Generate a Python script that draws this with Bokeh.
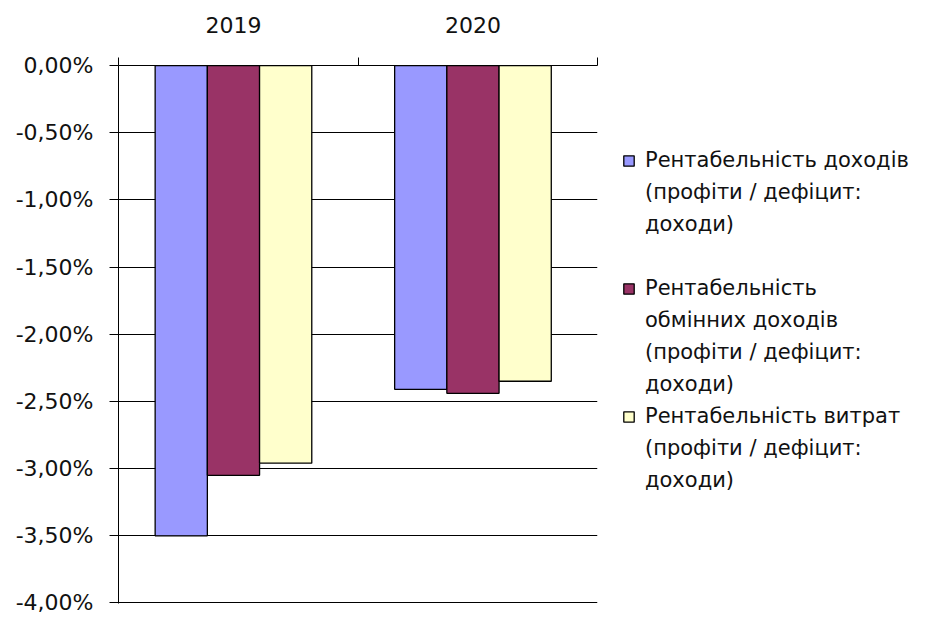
from bokeh.plotting import figure
from bokeh.models import Range1d, FixedTicker, Legend, LegendItem, ColumnDataSource
from bokeh.embed import file_html
from bokeh.resources import INLINE

# ---- data ----
years = ["2019", "2020"]
series_label_lines = [
    ["Рентабельність доходів", "(профіти / дефіцит:", "доходи)"],
    ["Рентабельність", "обмінних доходів", "(профіти / дефіцит:", "доходи)"],
    ["Рентабельність витрат", "(профіти / дефіцит:", "доходи)"],
]
income_margin = [-3.50, -2.41]            # %
exchange_income_margin = [-3.05, -2.44]   # %
expense_margin = [-2.96, -2.35]           # %
y_tick_values = [0.0, -0.5, -1.0, -1.5, -2.0, -2.5, -3.0, -3.5, -4.0]
y_tick_labels = ["0,00%", "-0,50%", "-1,00%", "-1,50%", "-2,00%",
                 "-2,50%", "-3,00%", "-3,50%", "-4,00%"]

colors = ["#9999FF", "#993366", "#FFFFCC"]
series = [income_margin, exchange_income_margin, expense_margin]

FONT = "DejaVu Sans"
BAR_W = 0.218
GROUP_SHIFT = -0.02

p = figure(frame_width=479, frame_height=538,
           x_range=Range1d(0, len(years)), y_range=Range1d(-4.004, 0),
           x_axis_location="above",
           output_backend="svg", toolbar_location=None,
           min_border_left=118, min_border_top=65,
           min_border_bottom=14, min_border_right=0)
p.outline_line_color = None
p.background_fill_color = "white"
p.border_fill_color = "white"

bar_renderers = []
for k, (vals, col) in enumerate(zip(series, colors)):
    xs = [i + 0.5 + GROUP_SHIFT + (k - 1) * BAR_W for i in range(len(years))]
    src = ColumnDataSource(dict(x=xs, top=vals))
    r = p.vbar(x="x", top="top", bottom=0, width=BAR_W, source=src,
               fill_color=col, line_color="black", line_width=1.3)
    bar_renderers.append(r)

# invisible renderer used for continuation lines of the legend labels
blank = p.vbar(x=[], top=[], width=0.1, fill_alpha=0, line_alpha=0)

# y axis
yax = p.yaxis[0]
yax.ticker = FixedTicker(ticks=y_tick_values)
yax.major_label_overrides = {v: s for v, s in zip(y_tick_values, y_tick_labels)}
yax.major_tick_out = 9
yax.major_tick_in = 0
yax.minor_tick_line_color = None
yax.axis_line_color = "black"
yax.major_tick_line_color = "black"
yax.major_label_text_font = FONT
yax.major_label_text_font_size = "22px"
yax.major_label_text_color = "#111111"
yax.major_label_standoff = 16

# top category axis
xax = p.xaxis[0]
label_pos = [i + 0.5 + GROUP_SHIFT for i in range(len(years))]
xax.ticker = FixedTicker(ticks=label_pos,
                         minor_ticks=list(range(len(years) + 1)))
xax.major_label_overrides = {x: y for x, y in zip(label_pos, years)}
xax.major_tick_line_color = None
xax.major_tick_out = 0
xax.minor_tick_out = 8
xax.minor_tick_in = 0
xax.minor_tick_line_color = "black"
xax.axis_line_color = "black"
xax.major_label_text_font = FONT
xax.major_label_text_font_size = "22px"
xax.major_label_text_color = "#111111"
xax.major_label_standoff = 25

p.xgrid.grid_line_color = None
p.ygrid.grid_line_color = "black"
p.ygrid.ticker = FixedTicker(ticks=y_tick_values)

# legend: each label line is its own row; first row carries the swatch
items = []
for s, (r, lines) in enumerate(zip(bar_renderers, series_label_lines)):
    items.append(LegendItem(label=lines[0], renderers=[r]))
    items += [LegendItem(label=ln, renderers=[blank]) for ln in lines[1:]]
    if s == 0:
        items.append(LegendItem(label=" ", renderers=[blank]))

lg = Legend(items=items, location=(25, 110), orientation="vertical")
lg.border_line_color = None
lg.background_fill_alpha = 0
lg.margin = 25
lg.padding = 0
lg.spacing = 6
lg.glyph_width = 13
lg.glyph_height = 13
lg.label_height = 26
lg.label_standoff = 10
lg.label_text_font = FONT
lg.label_text_font_size = "21px"
lg.label_text_color = "#111111"
p.add_layout(lg, "right")

open("out.html", "w").write(file_html(p, INLINE))
